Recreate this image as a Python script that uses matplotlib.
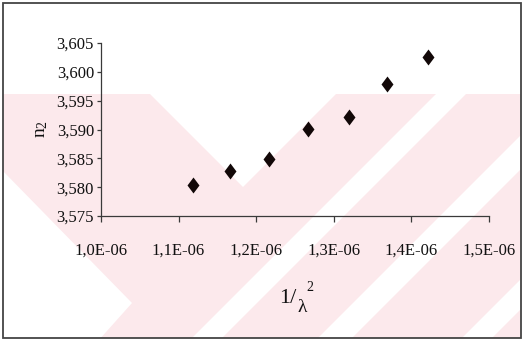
import matplotlib
matplotlib.use("Agg")
import matplotlib.pyplot as plt
from matplotlib.patches import Polygon, Rectangle
from matplotlib.path import Path
from matplotlib.transforms import Affine2D
from matplotlib.ticker import FuncFormatter

plt.rcParams['font.family'] = ['Liberation Serif', 'DejaVu Serif']
plt.rcParams['mathtext.fontset'] = 'custom'
plt.rcParams['mathtext.rm'] = 'Liberation Serif'
plt.rcParams['mathtext.it'] = 'Liberation Serif'
plt.rcParams['mathtext.default'] = 'regular'

# ---- data ----
inv_lambda_sq = [1.118e-6, 1.166e-6, 1.2165e-6, 1.267e-6, 1.319e-6, 1.369e-6, 1.421e-6]
n2_values = [3.5804, 3.5828, 3.5849, 3.5901, 3.5922, 3.5979, 3.6026]
x_ticks = [1.0e-6, 1.1e-6, 1.2e-6, 1.3e-6, 1.4e-6, 1.5e-6]
y_ticks = [3.575, 3.580, 3.585, 3.590, 3.595, 3.600, 3.605]

W, H = 524, 341
fig = plt.figure(figsize=(W / 100, H / 100), dpi=100)
fig.patch.set_facecolor('white')

# pixel (y down) -> figure transform
pix = Affine2D().scale(1 / W, -1 / H).translate(0, 1) + fig.transFigure

# ---- faint background watermark ----
pink = '#fce9ec'
base = Rectangle((3, 94), 518, 244, transform=pix, facecolor=pink, edgecolor='none', zorder=-5)
fig.patches.append(base)

def white_poly(pts):
    p = Polygon(pts, closed=True, transform=pix, facecolor='white', edgecolor='none', zorder=-4)
    p.set_clip_path(base)
    fig.patches.append(p)

# V notch at top
white_poly([(150, 94), (243, 187), (336, 94)])
# lower-left chevron
white_poly([(0, 168), (132, 303), (98, 341), (0, 341)])
# diagonal "/" stripes on the right
for c1, c2 in [(530, 560), (656, 690), (800, 830)]:
    white_poly([(c1 - 94, 94), (c2 - 94, 94), (c2 - 341, 341), (c1 - 341, 341)])

# ---- axes ----
ax = fig.add_axes([101 / W, 1 - 216 / H, (489 - 101) / W, (216 - 43) / H])
ax.set_facecolor('none')

diamond = Path([(0, 1), (0.75, 0), (0, -1), (-0.75, 0), (0, 1)],
               [Path.MOVETO, Path.LINETO, Path.LINETO, Path.LINETO, Path.CLOSEPOLY])
ax.plot(inv_lambda_sq, n2_values, linestyle='none', marker=diamond,
        markersize=11.5, color='#120808', markeredgewidth=0)

ax.set_xlim(x_ticks[0], x_ticks[-1])
ax.set_ylim(y_ticks[0], y_ticks[-1])
ax.set_xticks(x_ticks)
ax.set_yticks(y_ticks)
ax.xaxis.set_major_formatter(FuncFormatter(lambda v, p: f"{v * 1e6:.1f}E-06".replace('.', ',')))
ax.yaxis.set_major_formatter(FuncFormatter(lambda v, p: f"{v:.3f}".replace('.', ',')))

for s in ['top', 'right']:
    ax.spines[s].set_visible(False)
for s in ['left', 'bottom']:
    ax.spines[s].set_color('#3a3a3a')
    ax.spines[s].set_linewidth(0.9)

ax.tick_params(axis='x', direction='out', length=4, width=0.9, color='#3a3a3a',
               labelsize=12, pad=15, labelcolor='#111111')
ax.tick_params(axis='y', direction='out', length=3, width=0.9, color='#3a3a3a',
               labelsize=12, pad=2, labelcolor='#111111')

# ---- axis titles ----
fig.text(42 / W, 1 - 129 / H, r'$\mathregular{n_2}$', rotation=90, ha='center', va='center',
         fontsize=14, color='#111111')
fig.text(279 / W, 1 - 303 / H, '1/', ha='left', va='baseline', fontsize=16, color='#111111')
fig.text(297 / W, 1 - 312 / H, 'λ', ha='left', va='baseline', fontsize=14, color='#111111')
fig.text(306 / W, 1 - 291 / H, '2', ha='left', va='baseline', fontsize=10, color='#111111')

# ---- outer frame ----
frame = Rectangle((3, 3), 518, 335, transform=pix, fill=False, edgecolor='#444444',
                  linewidth=1.3, zorder=10)
fig.patches.append(frame)

fig.savefig('out.png', dpi=100, facecolor='white')
